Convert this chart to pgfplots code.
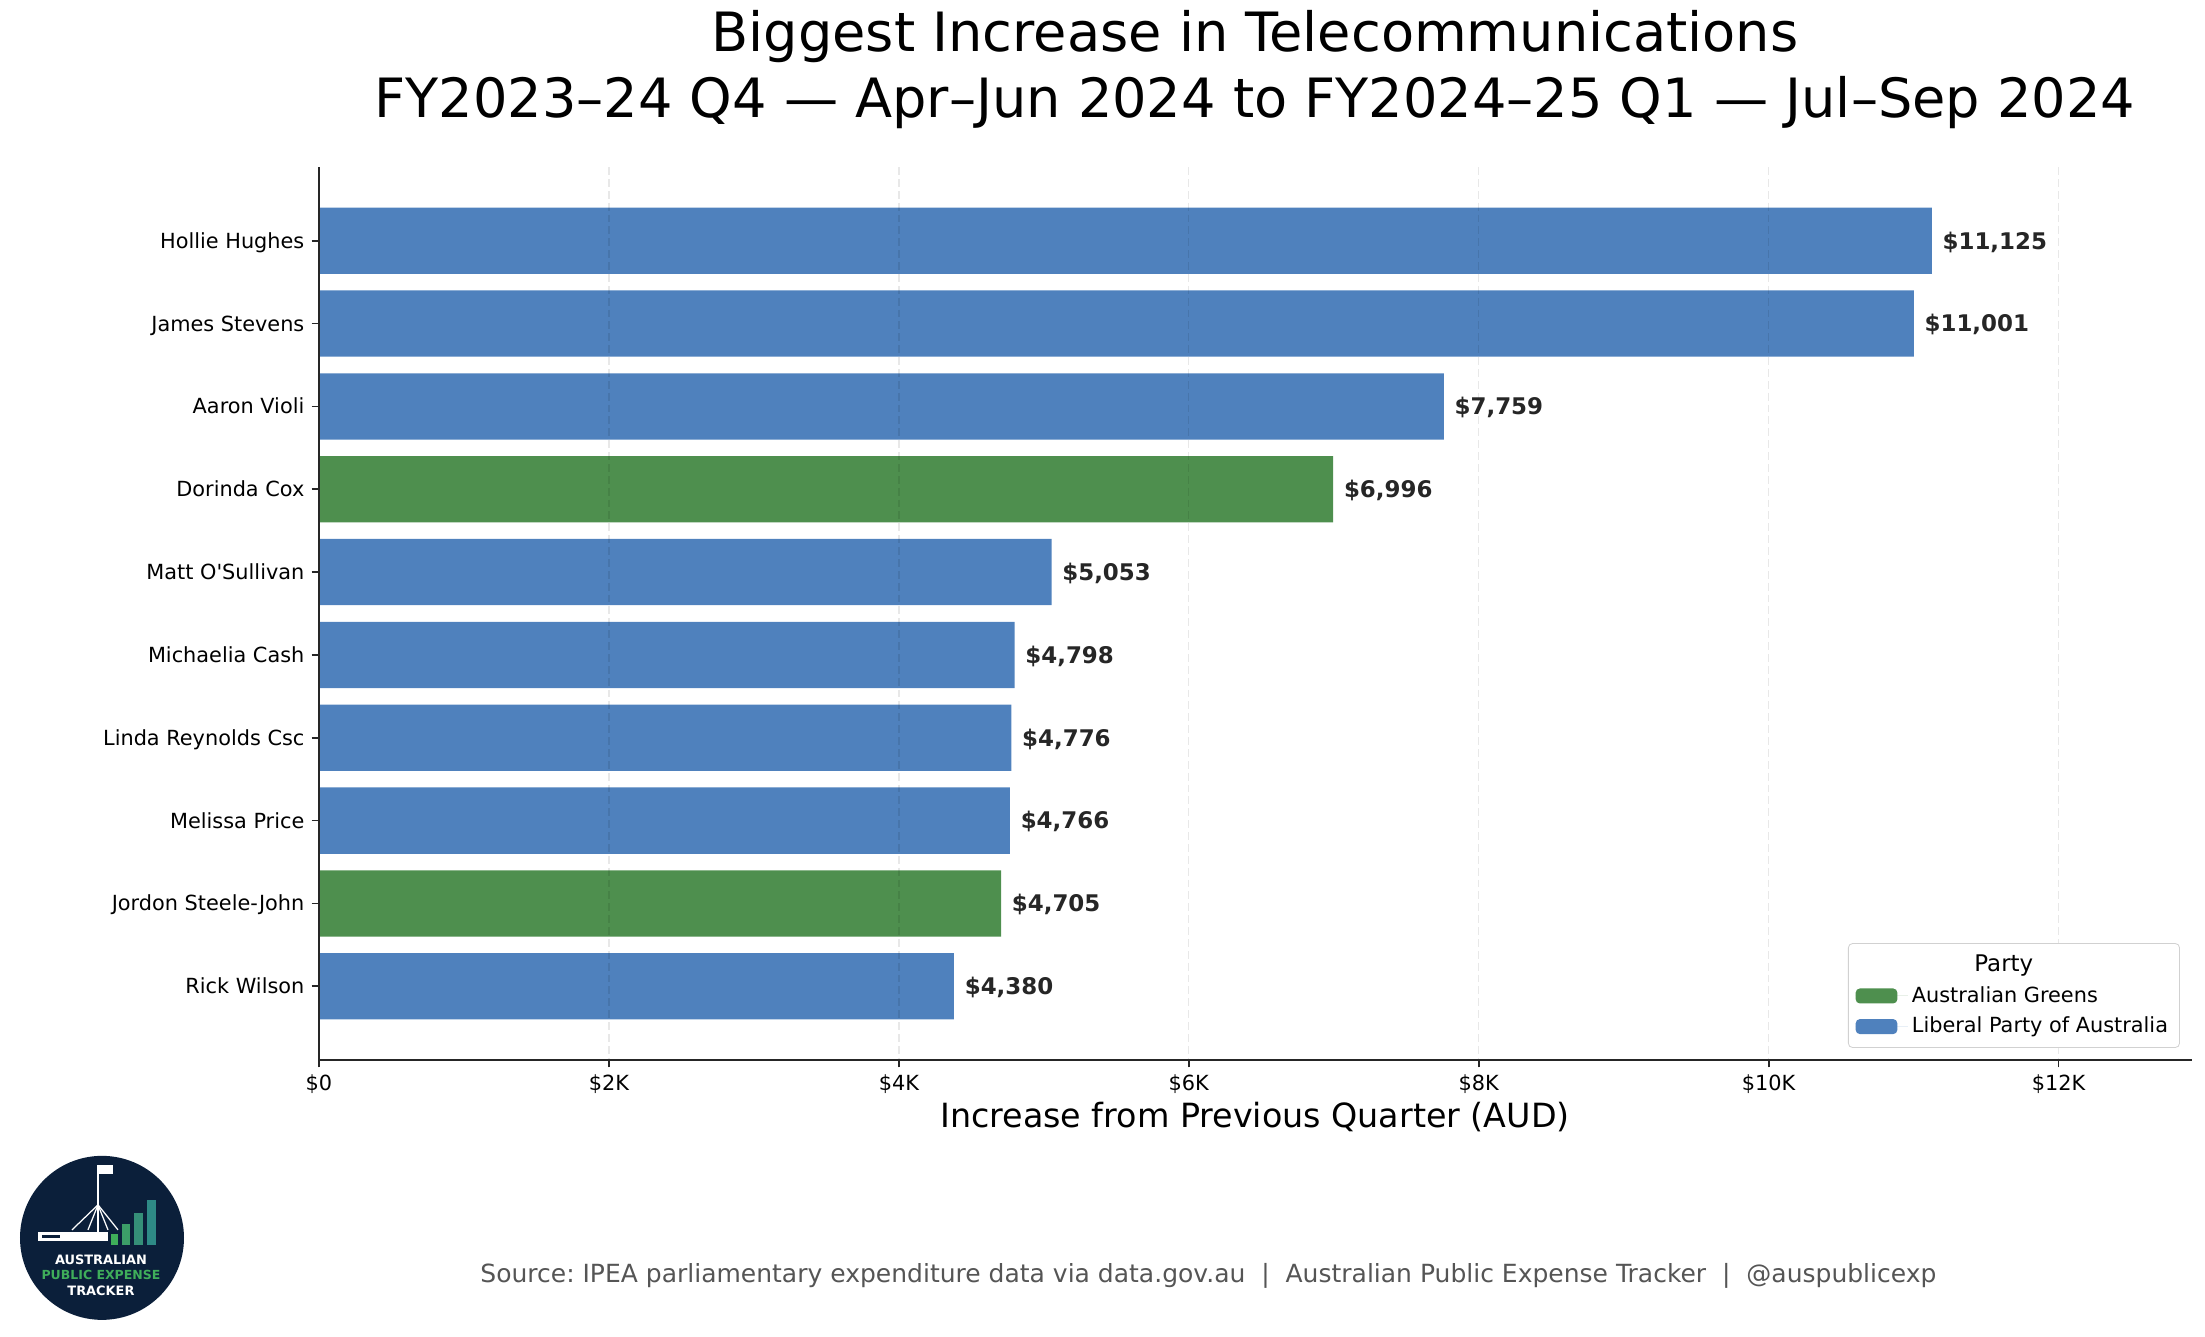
\documentclass[border=0pt]{standalone}
\usepackage{pgfplots}
\pgfplotsset{compat=1.18}
\usepackage{fontspec}
\setmainfont{DejaVu Sans}
\definecolor{libblue}{HTML}{4F81BD}
\definecolor{grngreen}{HTML}{4E8F4E}
\definecolor{navy}{HTML}{0B1F3A}
\definecolor{srcgray}{HTML}{555555}
\definecolor{lbl}{HTML}{262626}
\definecolor{lg1}{HTML}{3FAE5A}
\definecolor{lg2}{HTML}{3C9E68}
\definecolor{lg3}{HTML}{358F78}
\definecolor{lg4}{HTML}{2E8A86}
\frenchspacing
\begin{document}
\begin{tikzpicture}
\path[use as bounding box] (0,0) rectangle (1058.4pt,-641.76pt);
% title
\node[anchor=base,font=\fontsize{26}{31}\selectfont] at (602.4pt,-24.5pt) {Biggest Increase in Telecommunications};
\node[anchor=base,font=\fontsize{26}{31}\selectfont] at (602.4pt,-56.2pt) {FY2023–24 Q4 — Apr–Jun 2024 to FY2024–25 Q1 — Jul–Sep 2024};
\begin{axis}[
  at={(153.12pt,-80.16pt)}, anchor=north west,
  width=899.04pt, height=428.64pt, scale only axis,
  xbar, bar width=0.8,
  y dir=reverse,
  ymin=-0.89, ymax=9.89,
  xmin=0, xmax=12920,
  scaled x ticks=false,
  ytick={0,...,9},
  yticklabels={Hollie Hughes,James Stevens,Aaron Violi,Dorinda Cox,Matt O\textquotesingle Sullivan,Michaelia Cash,Linda Reynolds Csc,Melissa Price,Jordon Steele-John,Rick Wilson},
  xtick={0,2000,4000,6000,8000,10000,12000},
  xticklabels={\$0,\$2K,\$4K,\$6K,\$8K,\$10K,\$12K},
  ticklabel style={font=\fontsize{10}{12}\selectfont},
  yticklabel style={anchor=base east, yshift=-3.6pt},
  axis x line*=bottom, axis y line*=left,
  axis line style={black!85, line width=0.8pt},
  tick style={black!85, line width=0.8pt},
  tick align=outside, major tick length=3.5pt,
  xmajorgrids,
  grid style={black, opacity=0.09, dash pattern=on 3.8pt off 1.9pt, line width=0.6pt},
  axis on top,
  point meta=x,
  nodes near coords={\$\pgfmathprintnumber[fixed,precision=0,1000 sep={,},assume math mode=true]{\pgfplotspointmeta}},
  nodes near coords style={anchor=base west, inner sep=0pt, xshift=5pt, yshift=-4pt, font=\fontsize{11}{13}\selectfont\bfseries, text=lbl},
  legend cell align=left,
  legend style={at={(1,0)}, anchor=south east, xshift=-5.8pt, yshift=5.8pt,
    draw=black!18, rounded corners=2pt, fill=white,
    font=\fontsize{10}{12}\selectfont, row sep=1.6pt, inner sep=3.5pt},
  legend image code/.code={\fill[#1] (0pt,-3.6pt) rectangle (20pt,3.6pt); \path (0pt,0pt) -- (25pt,0pt);},
]
\addlegendimage{empty legend}
\addlegendentry{\hspace*{30pt}\fontsize{11}{13}\selectfont Party}
\addplot[fill=grngreen, draw=none, bar shift=0pt] coordinates {(6996,3) (4705,8)};
\addlegendentry{Australian Greens}
\addplot[fill=libblue, draw=none, bar shift=0pt] coordinates {(11125,0) (11001,1) (7759,2) (5053,4) (4798,5) (4776,6) (4766,7) (4380,9)};
\addlegendentry{Liberal Party of Australia}
\end{axis}
% x label
\node[anchor=base,font=\fontsize{16}{19}\selectfont] at (602.4pt,-541.4pt) {Increase from Previous Quarter (AUD)};
% source
\node[anchor=base,font=\fontsize{12}{14}\selectfont,text=srcgray] at (580pt,-615.8pt) {Source: IPEA parliamentary expenditure data via data.gov.au \ | \ Australian Public Expense Tracker \ | \ @auspublicexp};
% logo
\begin{scope}[x=0.48pt,y=-0.48pt,yshift=1.5pt]
\fill[navy] (102,1241) circle (82);
\fill[white] (38,1235) rectangle (108,1244);
\fill[navy] (42,1238) rectangle (60,1241);
\draw[white,line width=1pt] (98,1168) -- (98,1236);
\fill[white] (99,1168) rectangle (113,1177);
\draw[white,line width=0.6pt] (98,1208) -- (72,1233);
\draw[white,line width=0.6pt] (98,1208) -- (88,1233);
\draw[white,line width=0.6pt] (98,1208) -- (108,1233);
\draw[white,line width=0.6pt] (98,1208) -- (118,1233);
\fill[lg1] (111,1237) rectangle (118,1248);
\fill[lg2] (122,1227) rectangle (130,1248);
\fill[lg3] (134,1216) rectangle (143,1248);
\fill[lg4] (147,1203) rectangle (156,1248);
\node[font=\fontsize{6.2}{7}\selectfont\bfseries,text=white] at (101,1263) {AUSTRALIAN};
\node[font=\fontsize{6}{7}\selectfont\bfseries,text=lg1] at (101,1278) {PUBLIC EXPENSE};
\node[font=\fontsize{6.2}{7}\selectfont\bfseries,text=white] at (101,1294) {TRACKER};
\end{scope}
\end{tikzpicture}
\end{document}
